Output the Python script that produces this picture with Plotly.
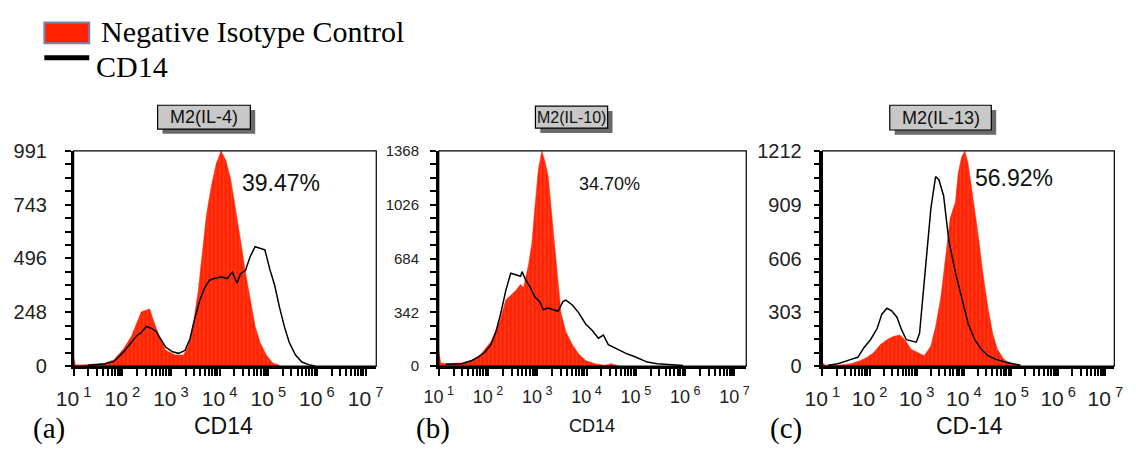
import numpy as np
import plotly.graph_objects as go

W, H = 1136, 460

# ---------------- data (log10 of CD14 fluorescence, event counts) ----------------
# Panel (a) M2(IL-4)
a_iso_log = [1.00, 1.04, 1.29, 1.63, 1.83, 2.03, 2.19, 2.29, 2.39, 2.49, 2.56, 2.66, 2.76, 2.89,
             3.09, 3.26, 3.36, 3.46, 3.56, 3.63, 3.73, 3.83, 3.93, 4.03, 4.13, 4.23, 4.33, 4.43,
             4.53, 4.63, 4.73, 4.83, 4.96, 5.09, 5.23]
a_iso_cnt = [40, 5, 7, 13, 29, 81, 139, 198, 250, 257, 264, 198, 139, 73,
             51, 51, 95, 198, 345, 492, 697, 829, 932, 991, 947, 859, 727, 580,
             433, 301, 184, 110, 51, 15, 4]
a_cd_log = [1.29, 1.63, 1.83, 2.03, 2.19, 2.29, 2.39, 2.49, 2.59, 2.69, 2.79, 2.89, 3.03, 3.16,
            3.29, 3.39, 3.49, 3.59, 3.69, 3.79, 3.89, 4.03, 4.16, 4.26, 4.36, 4.43, 4.53, 4.63,
            4.73, 4.83, 4.93, 5.03, 5.13, 5.23, 5.33, 5.43, 5.56, 5.69, 5.83, 5.96]
a_cd_cnt = [4, 10, 22, 66, 110, 139, 154, 183, 176, 161, 125, 88, 66, 59,
            73, 125, 220, 301, 360, 396, 404, 411, 404, 433, 382, 426, 440, 506,
            550, 543, 536, 448, 374, 272, 183, 110, 51, 19, 7, 1]

# Panel (b) M2(IL-10)
b_iso_log = [1.00, 1.04, 1.14, 1.47, 1.67, 1.86, 2.06, 2.23, 2.36, 2.46, 2.56, 2.66, 2.72, 2.82,
             2.89, 2.95, 3.02, 3.09, 3.15, 3.22, 3.28, 3.35, 3.42, 3.48, 3.58, 3.71, 3.84, 3.98,
             4.17, 4.37, 4.50, 4.64]
b_iso_cnt = [97, 20, 16, 20, 36, 77, 157, 278, 420, 450, 480, 520, 500, 642,
             783, 1005, 1247, 1368, 1308, 1207, 1005, 763, 500, 339, 218, 137, 77, 36,
             16, 6, 16, 2]
b_cd_log = [1.14, 1.47, 1.67, 1.80, 1.93, 2.06, 2.16, 2.26, 2.36, 2.46, 2.56, 2.66, 2.69, 2.76,
            2.86, 2.95, 3.05, 3.12, 3.22, 3.32, 3.42, 3.52, 3.58, 3.71, 3.84, 3.98, 4.11, 4.24,
            4.34, 4.44, 4.57, 4.70, 4.83, 4.97, 5.10, 5.23, 5.43, 5.69, 5.96]
b_cd_cnt = [12, 16, 36, 57, 87, 137, 218, 339, 480, 591, 581, 571, 601, 551,
            500, 440, 410, 359, 369, 359, 349, 410, 420, 389, 339, 268, 228, 178,
            198, 137, 117, 97, 77, 61, 46, 26, 16, 10, 4]

# Panel (c) M2(IL-13)
c_iso_log = [0.99, 1.05, 1.33, 1.61, 1.81, 1.95, 2.09, 2.23, 2.37, 2.50, 2.64, 2.75, 2.88, 3.02,
             3.16, 3.30, 3.40, 3.51, 3.61, 3.71, 3.82, 3.88, 3.95, 4.02, 4.09, 4.20, 4.30, 4.40,
             4.51, 4.61, 4.71, 4.85, 4.99, 5.20]
c_iso_cnt = [23, 6, 5, 14, 32, 50, 77, 122, 149, 167, 176, 149, 95, 77,
             59, 113, 222, 384, 618, 834, 924, 1086, 1176, 1212, 1140, 942, 744, 528,
             330, 185, 95, 38, 14, 5]
c_cd_log = [1.12, 1.33, 1.61, 1.75, 1.88, 2.02, 2.16, 2.26, 2.37, 2.47, 2.58, 2.68, 2.78, 2.99,
            3.06, 3.13, 3.23, 3.30, 3.40, 3.47, 3.57, 3.68, 3.82, 3.95, 4.09, 4.23, 4.37, 4.51,
            4.68, 4.92, 5.20]
c_cd_cnt = [5, 14, 38, 50, 104, 149, 212, 293, 326, 312, 276, 204, 149, 135,
            185, 384, 654, 888, 1068, 1050, 960, 708, 528, 384, 240, 149, 95, 59,
            38, 20, 5]

panel_titles = ["M2(IL-4)", "M2(IL-10)", "M2(IL-13)"]
percent_labels = ["39.47%", "34.70%", "56.92%"]
x_titles = ["CD14", "CD14", "CD-14"]
panel_letters = ["(a)", "(b)", "(c)"]
y_ticks = [[0, 248, 496, 743, 991], [0, 342, 684, 1026, 1368], [0, 303, 606, 909, 1212]]
x_tick_exps = [1, 2, 3, 4, 5, 6, 7]
legend_names = ["Negative Isotype Control", "CD14"]

# ---------------- layout geometry (pixels) ----------------
RED = "#ff2200"
plot_px = [(57, 367), (431, 746), (824, 1123)]
x_max_log = [7.22, 7.24, 7.19]
top_px, bot_px = 147, 373
ytick_font = [20, 15, 20]
ytick_standoff = [14, 8, 8]
xtick_font = [21, 18, 21]
pct_pos = [(269, 181, 23), (606, 182, 18), (1020, 175, 23)]
box_px = [(143, 238, 99, 124), (530, 604, 100, 123), (893, 997, 99, 125)]
xt_pos = [(211, 436, 23), (588, 436, 18), (975, 436, 23)]
letter_pos = [(32, 438), (425, 438), (787, 438)]
box_font = [18, 16, 18]

def px(x):
    return x / W

def py(y):
    return 1 - y / H

# x ticks: decades (labelled) plus 2..9 sub-decade ticks (unlabelled)
x_tickvals, x_ticktext = [], []
for e in x_tick_exps:
    x_tickvals.append(10 ** e)
    x_ticktext.append(f"10<sup> {e}</sup>")
    if e < x_tick_exps[-1]:
        for m in range(2, 10):
            x_tickvals.append(m * 10 ** e)
            x_ticktext.append("")

fig = go.Figure()
data = [(a_iso_log, a_iso_cnt, a_cd_log, a_cd_cnt),
        (b_iso_log, b_iso_cnt, b_cd_log, b_cd_cnt),
        (c_iso_log, c_iso_cnt, c_cd_log, c_cd_cnt)]

shapes, annotations = [], []
axes = {}
for i, (il, ic, cl, cc) in enumerate(data):
    xa = "x" if i == 0 else f"x{i+1}"
    ya = "y" if i == 0 else f"y{i+1}"
    fig.add_trace(go.Scatter(
        x=10 ** np.array(il), y=ic, xaxis=xa, yaxis=ya, mode="lines",
        line=dict(color=RED, width=0.5), fill="tozeroy", fillcolor=RED,
        fillpattern=dict(shape="|", fgcolor="#ff8a78", bgcolor=RED, size=4, solidity=0.18),
        name=legend_names[0], showlegend=False, hoverinfo="skip"))
    fig.add_trace(go.Scatter(
        x=10 ** np.array(cl), y=cc, xaxis=xa, yaxis=ya, mode="lines",
        line=dict(color="black", width=1.5),
        name=legend_names[1], showlegend=False, hoverinfo="skip"))

    l, r = plot_px[i]
    sfx = "" if i == 0 else str(i + 1)
    step = y_ticks[i][1]
    y_tickvals = [step / 4 * k for k in range(0, 4 * (len(y_ticks[i]) - 1) + 1)]
    y_tickvals[-1] = y_ticks[i][-1]
    y_ticktext = [str(y_ticks[i][k // 4]) if k % 4 == 0 else "" for k in range(len(y_tickvals))]
    axes["xaxis" + sfx] = dict(
        type="log", domain=[px(l), px(r)], range=[1, x_max_log[i]], anchor=ya,
        tickmode="array", tickvals=x_tickvals, ticktext=x_ticktext,
        ticks="outside", ticklen=7, tickwidth=2.2, tickcolor="black",
        showline=True, linecolor="black", linewidth=2.5, showgrid=False, zeroline=False,
        tickfont=dict(family="Liberation Sans", size=xtick_font[i], color="#222"),
        ticklabelstandoff=5)
    axes["yaxis" + sfx] = dict(
        domain=[py(bot_px), py(top_px)], range=[0, y_ticks[i][-1]], anchor=xa,
        tickmode="array", tickvals=y_tickvals, ticktext=y_ticktext,
        ticks="outside", ticklen=6, tickwidth=2, tickcolor="black",
        showline=True, linecolor="black", linewidth=2.5, showgrid=False, zeroline=False,
        tickfont=dict(family="Liberation Sans", size=ytick_font[i], color="#222"),
        ticklabelstandoff=ytick_standoff[i])
    # frame
    shapes.append(dict(type="rect", xref=f"{xa} domain", yref=f"{ya} domain",
                       x0=0, x1=1, y0=0, y1=1, line=dict(color="black", width=1.2)))
    # title box with shadow
    bx0, bx1, by0, by1 = box_px[i]
    shapes.append(dict(type="rect", xref="paper", yref="paper",
                       x0=px(bx0 + 5), x1=px(bx1 + 5), y0=py(by1 + 5), y1=py(by0 + 5),
                       fillcolor="#6a6a6a", line=dict(width=0), layer="above"))
    shapes.append(dict(type="rect", xref="paper", yref="paper",
                       x0=px(bx0), x1=px(bx1), y0=py(by1), y1=py(by0),
                       fillcolor="#c8c8c8", line=dict(color="black", width=1.2), layer="above"))
    annotations.append(dict(text=panel_titles[i], xref="paper", yref="paper",
                            x=px((bx0 + bx1) / 2), y=py((by0 + by1) / 2), showarrow=False,
                            xanchor="center", yanchor="middle",
                            font=dict(family="Liberation Sans", size=box_font[i], color="#111")))
    # percentage
    tx, ty, ts = pct_pos[i]
    annotations.append(dict(text=percent_labels[i], xref="paper", yref="paper",
                            x=px(tx), y=py(ty), showarrow=False, xanchor="center", yanchor="middle",
                            font=dict(family="Liberation Sans", size=ts, color="#111")))
    # x title
    tx, ty, ts = xt_pos[i]
    annotations.append(dict(text=x_titles[i], xref="paper", yref="paper",
                            x=px(tx), y=py(ty), showarrow=False, xanchor="center", yanchor="middle",
                            font=dict(family="Liberation Sans", size=ts, color="#111")))
    # panel letter
    tx, ty = letter_pos[i]
    annotations.append(dict(text=panel_letters[i], xref="paper", yref="paper",
                            x=px(tx), y=py(ty), showarrow=False, xanchor="center", yanchor="middle",
                            font=dict(family="Liberation Serif", size=29, color="black")))

# custom legend
shapes.append(dict(type="rect", xref="paper", yref="paper", x0=px(27), x1=px(73),
                   y0=py(34), y1=py(12), fillcolor=RED, line=dict(color="#7088b0", width=2)))
shapes.append(dict(type="line", xref="paper", yref="paper", x0=px(27), x1=px(73),
                   y0=py(49), y1=py(49), line=dict(color="black", width=5)))
annotations.append(dict(text=legend_names[0], xref="paper", yref="paper", x=px(83), y=py(22),
                        showarrow=False, xanchor="left", yanchor="middle",
                        font=dict(family="Liberation Serif", size=30, color="black")))
annotations.append(dict(text=legend_names[1], xref="paper", yref="paper", x=px(78), y=py(58),
                        showarrow=False, xanchor="left", yanchor="middle",
                        font=dict(family="Liberation Serif", size=30, color="black")))

fig.update_layout(width=W, height=H, margin=dict(l=0, r=0, t=0, b=0),
                  paper_bgcolor="white", plot_bgcolor="white", showlegend=False,
                  shapes=shapes, annotations=annotations, **axes)
fig.write_html("out.html")
